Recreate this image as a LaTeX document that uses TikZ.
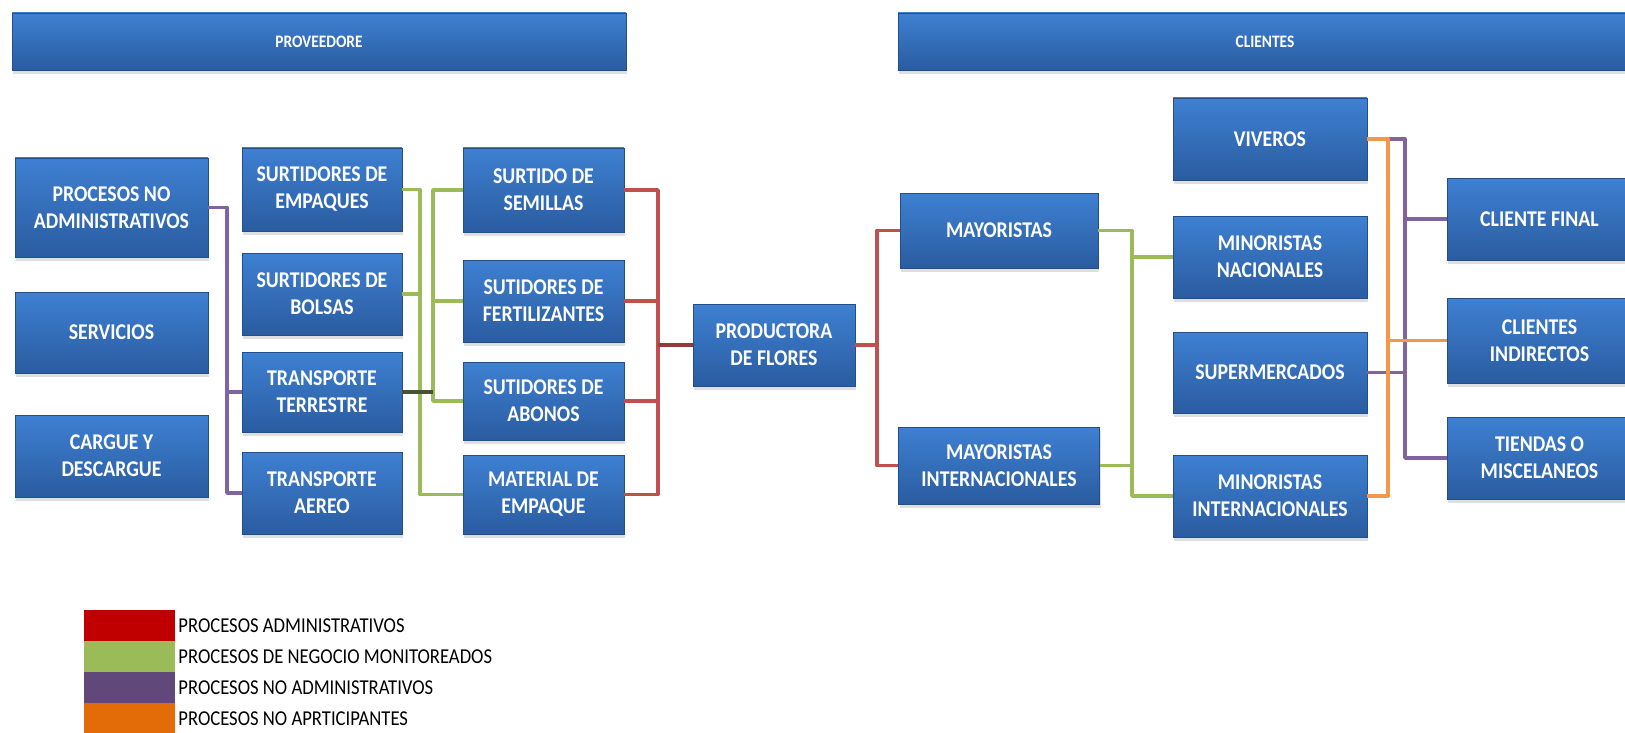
\documentclass[tikz,border=0pt]{standalone}
\usepackage{fontspec}
\setmainfont{Carlito}
\newfontfamily\boxfont{Carlito}[FakeStretch=0.88]
\usetikzlibrary{shadows}

\definecolor{boxtop}{RGB}{62,128,210}
\definecolor{boxbot}{RGB}{42,92,160}
\definecolor{linered}{RGB}{192,80,77}
\definecolor{linegreen}{RGB}{155,187,89}
\definecolor{linepurple}{RGB}{128,100,162}
\definecolor{lineorange}{RGB}{247,150,70}
\definecolor{linedark}{RGB}{72,82,48}
\definecolor{legred}{RGB}{192,0,0}
\definecolor{leggreen}{RGB}{155,187,89}
\definecolor{legpurple}{RGB}{96,73,122}
\definecolor{legorange}{RGB}{227,108,9}

\tikzset{
  box/.style={rectangle, top color=boxtop, bottom color=boxbot, draw=boxbot!85!black, line width=0.5pt,
    text=white, font=\boxfont\bfseries\fontsize{22.5}{27}\selectfont, align=center, inner sep=0pt,
    drop shadow={shadow xshift=1pt, shadow yshift=-4pt, opacity=0.25}},
  bar/.style={box, font=\boxfont\bfseries\fontsize{17.5}{20}\selectfont},
  link/.style={line width=3.8pt, line join=round},
  swatch/.style={rectangle, inner sep=0pt, minimum width=91pt, minimum height=31pt},
  legtext/.style={anchor=west, inner sep=0pt, font=\boxfont\fontsize{21.2}{22}\selectfont}
}

\begin{document}
\begin{tikzpicture}[x=1pt, y=-1pt]
\def \xa {111.5}
\def \xb {322}
\def \xc {543.5}
\def \xd {774}
\def \xe {999}
\def \xf {1270}
\def \xg {1539.5}

\useasboundingbox (0,0) rectangle (1625,733);

% headers
\node[bar, minimum width=614pt, minimum height=57pt] (prov) at (319, 41.5) {PROVEEDORE};
\node[bar, minimum width=734pt, minimum height=57pt] (cli) at (1265, 41.5) {CLIENTES};

% left columns
\node[box, minimum width=193pt, minimum height=99pt] (pna) at (\xa, 207.5) {PROCESOS NO\\ADMINISTRATIVOS};
\node[box, minimum width=193pt, minimum height=81pt] (serv) at (\xa, 332.5) {SERVICIOS};
\node[box, minimum width=193pt, minimum height=82pt] (carg) at (\xa, 456) {CARGUE Y\\DESCARGUE};

\node[box, minimum width=160pt, minimum height=83pt] (semp) at (\xb, 189.5) {SURTIDORES DE\\EMPAQUES};
\node[box, minimum width=160pt, minimum height=82pt] (sbol) at (\xb, 294) {SURTIDORES DE\\BOLSAS};
\node[box, minimum width=160pt, minimum height=80pt] (tter) at (\xb, 392) {TRANSPORTE\\TERRESTRE};
\node[box, minimum width=160pt, minimum height=82pt] (taer) at (\xb, 493) {TRANSPORTE\\AEREO};

\node[box, minimum width=161pt, minimum height=84pt] (ssem) at (\xc, 190) {SURTIDO DE\\SEMILLAS};
\node[box, minimum width=161pt, minimum height=82pt] (sfer) at (\xc, 301) {SUTIDORES DE\\FERTILIZANTES};
\node[box, minimum width=161pt, minimum height=78pt] (sabo) at (\xc, 401) {SUTIDORES DE\\ABONOS};
\node[box, minimum width=161pt, minimum height=79pt] (memp) at (\xc, 494.5) {MATERIAL DE\\EMPAQUE};

\node[box, minimum width=162pt, minimum height=82pt] (prod) at (\xd, 345) {PRODUCTORA\\DE FLORES};

% right columns
\node[box, minimum width=198pt, minimum height=75pt] (may) at (\xe, 230.5) {MAYORISTAS};
\node[box, minimum width=201pt, minimum height=77pt] (mayi) at (\xe, 465.5) {MAYORISTAS\\INTERNACIONALES};

\node[box, minimum width=194pt, minimum height=82pt] (viv) at (\xf, 139) {VIVEROS};
\node[box, minimum width=194pt, minimum height=82pt] (mnac) at (\xf, 257) {MINORISTAS\\NACIONALES};
\node[box, minimum width=194pt, minimum height=81pt] (sup) at (\xf, 372.5) {SUPERMERCADOS};
\node[box, minimum width=194pt, minimum height=82pt] (mint) at (\xf, 496) {MINORISTAS\\INTERNACIONALES};

\node[box, minimum width=185pt, minimum height=82pt] (cfin) at (\xg, 219) {CLIENTE FINAL};
\node[box, minimum width=185pt, minimum height=85pt] (cind) at (\xg, 340.5) {CLIENTES\\INDIRECTOS};
\node[box, minimum width=185pt, minimum height=82pt] (tien) at (\xg, 458) {TIENDAS O\\MISCELANEOS};

% bus positions
\coordinate (b1) at (227, 0);
\coordinate (b2) at (420, 0);
\coordinate (b3) at (433, 0);
\coordinate (b4) at (658, 0);
\coordinate (b5) at (877, 0);
\coordinate (b6) at (1132, 0);
\coordinate (b7) at (1388, 0);
\coordinate (b8) at (1405, 0);

% purple, left
\draw[link, linepurple] (pna.east) -- (pna.east -| b1) |- (taer.west);
\draw[link, linepurple] (b1 |- tter.west) -- (tter.west);

% green, left
\draw[link, linegreen] (semp.east) -- (semp.east -| b2) |- (memp.west);
\draw[link, linegreen] (sbol.east) -- (sbol.east -| b2);
\draw[link, linegreen] (ssem.west) -- (ssem.west -| b3) |- (sabo.west);
\draw[link, linegreen] (b3 |- sfer.west) -- (sfer.west);
\draw[link, linedark] (tter.east) -- (tter.east -| b3);

% red
\draw[link, linered] (ssem.east) -- (ssem.east -| b4) |- (memp.east);
\draw[link, linered] (b4 |- sfer.east) -- (sfer.east);
\draw[link, linered] (b4 |- sabo.east) -- (sabo.east);
\draw[link, linered!75!black] (b4 |- prod.west) -- (prod.west);
\draw[link, linered] (prod.east) -- (prod.east -| b5);
\draw[link, linered] (may.west) -- (may.west -| b5) |- (mayi.west);

% green, right
\draw[link, linegreen] (may.east) -- (may.east -| b6) |- (mint.west);
\draw[link, linegreen] (mayi.east) -- (mayi.east -| b6);
\draw[link, linegreen] (b6 |- mnac.west) -- (mnac.west);

% purple, right
\draw[link, linepurple] (viv.east) -- (viv.east -| b8) |- (tien.west);
\draw[link, linepurple] (b8 |- cfin.west) -- (cfin.west);
\draw[link, linepurple] (sup.east) -- (sup.east -| b8);

% orange
\draw[link, lineorange] (viv.east) -- (viv.east -| b7) |- (mint.east);
\draw[link, lineorange] (b7 |- cind.west) -- (cind.west);

% legend
\node[swatch, fill=legred] (lred) at (129.5, 625.5) {};
\node[swatch, fill=leggreen] (lgreen) at (129.5, 656.5) {};
\node[swatch, fill=legpurple] (lpurple) at (129.5, 687.5) {};
\node[swatch, fill=legorange] (lorange) at (129.5, 718.5) {};
\node[legtext] (tred) at ([xshift=3pt]lred.east) {PROCESOS ADMINISTRATIVOS};
\node[legtext] (tgreen) at ([xshift=3pt]lgreen.east) {PROCESOS DE NEGOCIO MONITOREADOS};
\node[legtext] (tpurple) at ([xshift=3pt]lpurple.east) {PROCESOS NO ADMINISTRATIVOS};
\node[legtext] (torange) at ([xshift=3pt]lorange.east) {PROCESOS NO APRTICIPANTES};

\end{tikzpicture}
\end{document}
